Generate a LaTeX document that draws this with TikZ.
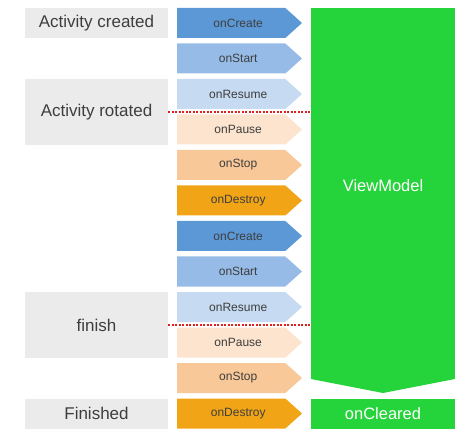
\documentclass[tikz,border=0pt]{standalone}
\usepackage{fontspec}
\setmainfont{Liberation Sans}
\usepackage{xcolor}
\usepackage{tikz}
\usetikzlibrary{positioning, shapes.symbols}

\definecolor{create}{RGB}{92,152,214}
\definecolor{start}{RGB}{150,187,231}
\definecolor{resume}{RGB}{198,218,241}
\definecolor{pause}{RGB}{252,228,206}
\definecolor{stop}{RGB}{248,200,152}
\definecolor{destroy}{RGB}{240,164,22}
\definecolor{vmgreen}{RGB}{37,211,58}
\definecolor{labelgray}{RGB}{235,235,235}
\definecolor{textgray}{RGB}{62,62,62}
\definecolor{cutred}{RGB}{222,32,32}

\begin{document}
\begin{tikzpicture}[
  x=1pt, y=1pt,
  node distance=5.5pt,
  callback/.style={
    signal,
    signal to=east,
    signal pointer angle=84,
    minimum width=125pt,
    minimum height=30pt,
    inner sep=0pt,
    outer sep=0pt,
    text=textgray,
    font=\fontsize{12}{14}\selectfont,
    execute at begin node={\hspace*{14pt}},
    text centered
  },
  phase/.style={
    fill=labelgray,
    minimum width=143pt,
    inner sep=0pt,
    outer sep=0pt,
    text=textgray,
    font=\fontsize{17}{20}\selectfont
  },
  green box/.style={
    fill=vmgreen,
    minimum width=144pt,
    inner sep=0pt,
    outer sep=0pt,
    text=white,
    font=\fontsize{16.5}{19}\selectfont
  },
  cut/.style={
    cutred,
    line width=1.3pt,
    dash pattern=on 2pt off 1.5pt
  }
]
\useasboundingbox (0,0) rectangle (473,-443);

% Callbacks
\node [callback, fill=create, anchor=north west] (create1) at (177,-8) {onCreate};
\node [callback, fill=start, below=of create1] (start1) {onStart};
\node [callback, fill=resume, below=of start1] (resume1) {onResume};
\node [callback, fill=pause, below=of resume1] (pause1) {onPause};
\node [callback, fill=stop, below=of pause1] (stop1) {onStop};
\node [callback, fill=destroy, below=of stop1] (destroy1) {onDestroy};
\node [callback, fill=create, below=of destroy1] (create2) {onCreate};
\node [callback, fill=start, below=of create2] (start2) {onStart};
\node [callback, fill=resume, below=of start2] (resume2) {onResume};
\node [callback, fill=pause, below=of resume2] (pause2) {onPause};
\node [callback, fill=stop, below=of pause2] (stop2) {onStop};
\node [callback, fill=destroy, below=of stop2] (destroy2) {onDestroy};

% Activity states
\node [phase, minimum height=30pt, anchor=east] (created) at ([xshift=-9pt]create1.west) {Activity created};
\node [phase, minimum height=66pt, anchor=north east] (rotated) at ([xshift=-9pt]resume1.north west) {Activity rotated};
\node [phase, minimum height=66pt, anchor=north east] (finish) at ([xshift=-9pt]resume2.north west) {finish};
\node [phase, minimum height=30pt, anchor=east] (finished) at ([xshift=-9pt]destroy2.west) {Finished};

% ViewModel
\node [green box, minimum height=371pt, anchor=north west] (vm) at (311,-8) {};
\fill [vmgreen] (vm.south west) -- ([yshift=-14pt]vm.south) -- (vm.south east) -- cycle;
\node [text=white, font=\fontsize{16.5}{19}\selectfont] (vmlabel) at ([yshift=7.5pt]vm.center) {ViewModel};
\node [green box, minimum height=30pt, anchor=west] (cleared) at (vm.west |- destroy2.west) {onCleared};

% Rotation and finish cuts
\draw [cut] (rotated.east) -- (rotated.east -| vm.west);
\draw [cut] (finish.east) -- (finish.east -| vm.west);

\end{tikzpicture}
\end{document}
